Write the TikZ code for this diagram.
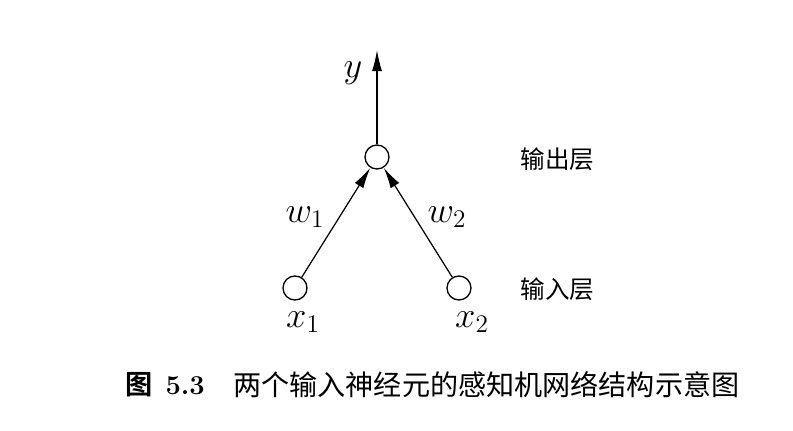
\documentclass[tikz,border=0pt]{standalone}
\usepackage{fontspec}
\usepackage{amsmath}
\newfontfamily\cjk{Noto Sans CJK SC}
\newfontfamily\cjkbold{Noto Sans CJK SC Bold}
\usetikzlibrary{positioning, arrows.meta, calc}
\tikzset{
  neuron/.style={circle, draw=black, line width=0.75pt, minimum size=0.48cm, inner sep=0pt},
  link/.style={line width=0.7pt, -{Latex[length=0.42cm,width=0.2cm]}},
  mathlabel/.style={font=\fontsize{20.74}{24}\selectfont, inner sep=0pt},
  layername/.style={font=\fontsize{14}{17}\selectfont\cjk, inner sep=0pt}
}
\begin{document}
\begin{tikzpicture}

    % Margenes de la figura
    \useasboundingbox (0,0) rectangle (15.86,-8.6);

    % Neuronas
    \node[neuron] (out) at (7.54, -3.14) {};
    \node[neuron] (in1) at (5.90, -5.76) {};
    \node[neuron] (in2) at (9.18, -5.76) {};
    \coordinate (ytip) at (7.54, -1.0);

    % Conexiones
    \draw[link] (in1) -- (out);
    \draw[link] (in2) -- (out);
    \draw[link] (out) -- (ytip);

    % Etiquetas
    \node[mathlabel] (ylab) at (7.06, -1.46) {$y$};
    \node[mathlabel] (w1lab) at (6.10, -4.34) {$w_1$};
    \node[mathlabel] (w2lab) at (8.94, -4.34) {$w_2$};
    \node[mathlabel] (x1lab) at (6.06, -6.44) {$x_1$};
    \node[mathlabel] (x2lab) at (9.44, -6.44) {$x_2$};

    % Nombres de las capas
    \node[layername] (outname) at (11.15, -3.18) {输出层};
    \node[layername] (inname) at (11.15, -5.78) {输入层};

    % Pie de figura
    \node[anchor=west, inner sep=0pt, font=\fontsize{15.5}{19}\selectfont] (capnum) at (2.50, -7.70) {{\cjkbold 图}\hspace{0.26cm}\textbf{5.3}};
    \node[anchor=west, inner sep=0pt, font=\fontsize{16}{19}\selectfont\cjk] (captext) at (4.66, -7.70) {两个输入神经元的感知机网络结构示意图};

\end{tikzpicture}
\end{document}
